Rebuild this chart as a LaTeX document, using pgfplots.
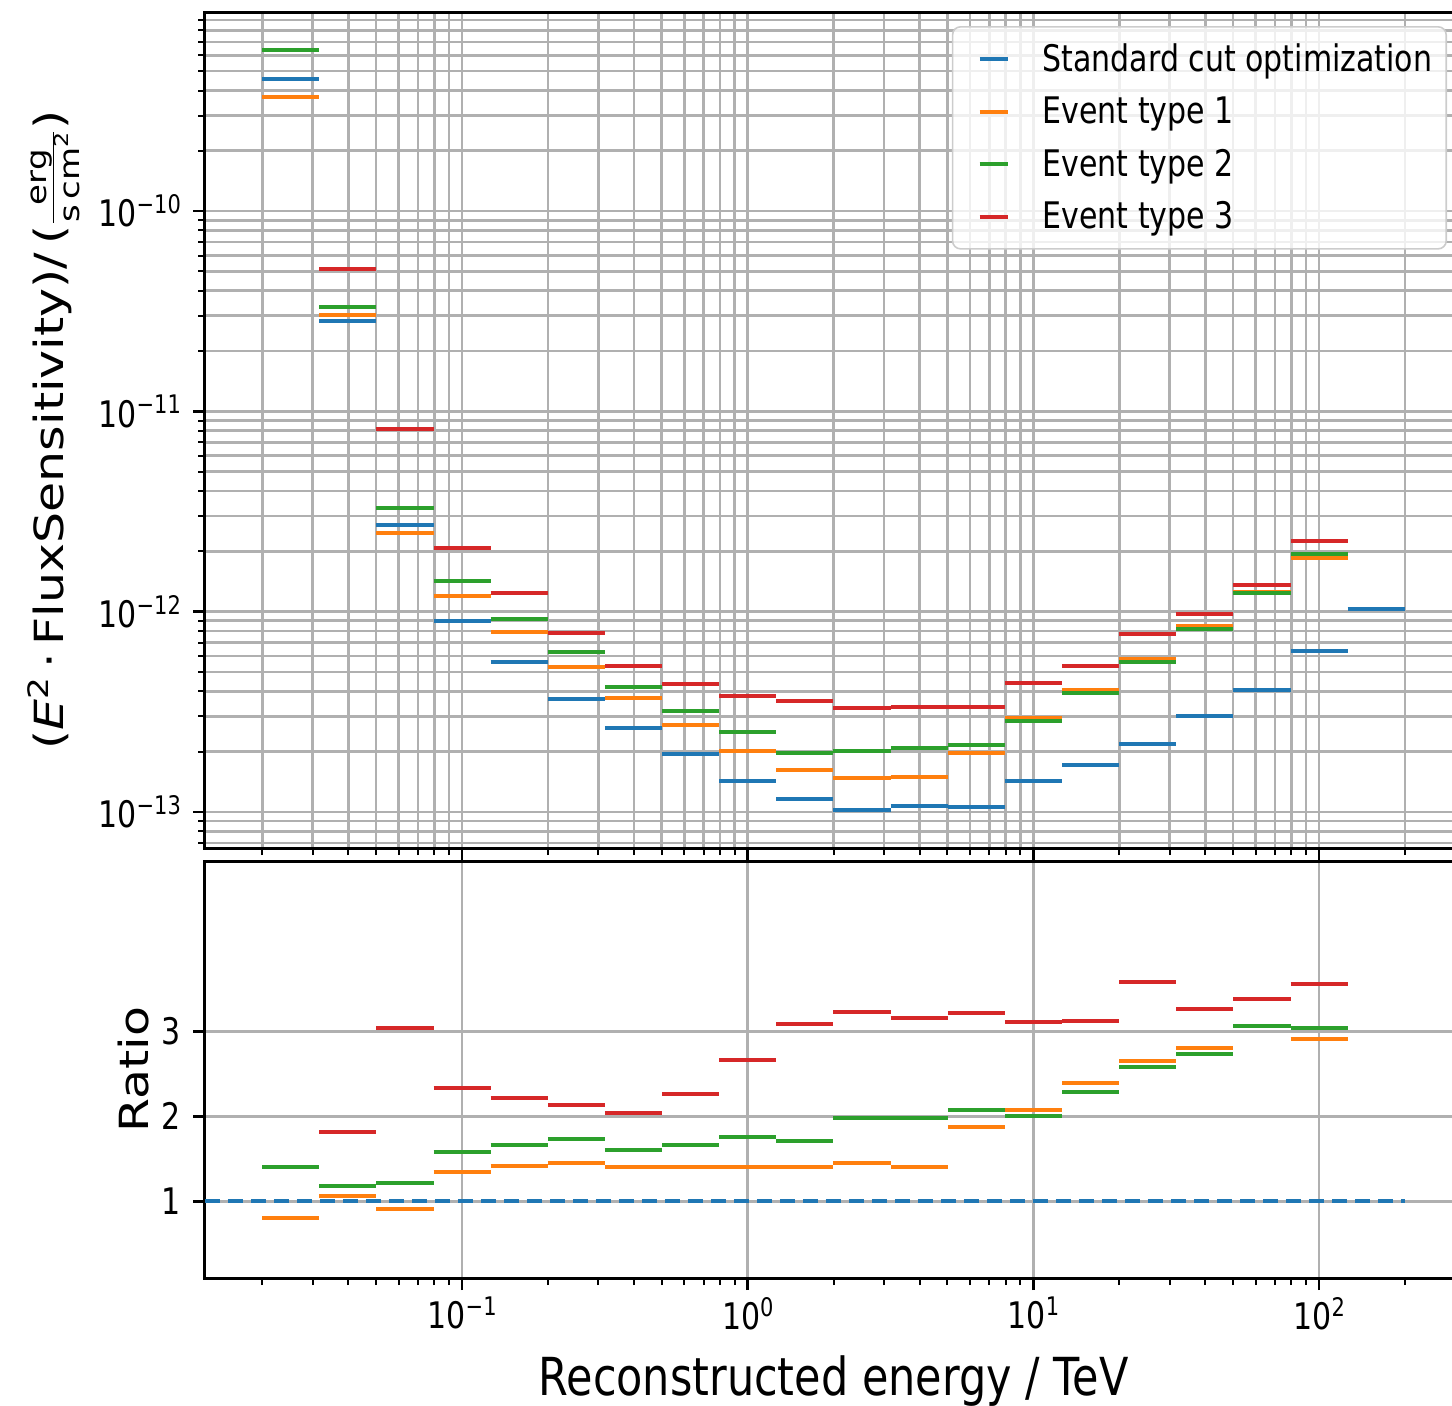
\documentclass[border=0pt]{standalone}
\usepackage{fontspec}
\setmainfont{DejaVu Sans}[FakeStretch=0.82]
\newfontfamily\rotfont{DejaVu Sans}
\usepackage{graphicx}
\usepackage{pgfplots}
\pgfplotsset{compat=1.18}
\usepackage{pgfplotstable}

\definecolor{c1}{HTML}{1F77B4}
\definecolor{c2}{HTML}{FF7F0E}
\definecolor{c3}{HTML}{2CA02C}
\definecolor{c4}{HTML}{D62728}
\definecolor{gridgray}{HTML}{B0B0B0}

\newcommand{\tk}{\fontsize{18.3pt}{22pt}\selectfont}
\newcommand{\pw}[1]{10\raisebox{6.6pt}{\fontsize{12.8pt}{14pt}\selectfont #1}}
\newcommand{\rotlab}[1]{\scalebox{1}[0.82]{\rotfont\fontsize{24.5pt}{29pt}\selectfont #1}}
\newcommand{\fracfont}{\rotfont\fontsize{17pt}{19pt}\selectfont}

% sensitivity: x = lower bin edge, last row = upper edge of last bin
\pgfplotstableread{
x y
0.019953 4.56e-10
0.031623 2.82e-11
0.050119 2.70e-12
0.079433 8.97e-13
0.125893 5.60e-13
0.199526 3.66e-13
0.316228 2.62e-13
0.501187 1.95e-13
0.794328 1.43e-13
1.258925 1.16e-13
1.995262 1.02e-13
3.162278 1.07e-13
5.011872 1.06e-13
7.943282 1.43e-13
12.58925 1.71e-13
19.95262 2.18e-13
31.62278 3.01e-13
50.11872 4.06e-13
79.43282 6.35e-13
125.8925 1.03e-12
199.5262 1.03e-12
}\sstd
\pgfplotstableread{
x y
0.019953 3.71e-10
0.031623 3.03e-11
0.050119 2.47e-12
0.079433 1.20e-12
0.125893 7.91e-13
0.199526 5.29e-13
0.316228 3.70e-13
0.501187 2.72e-13
0.794328 2.01e-13
1.258925 1.62e-13
1.995262 1.48e-13
3.162278 1.49e-13
5.011872 1.97e-13
7.943282 2.94e-13
12.58925 4.06e-13
19.95262 5.80e-13
31.62278 8.47e-13
50.11872 1.25e-12
79.43282 1.85e-12
125.8925 1.85e-12
}\sone
\pgfplotstableread{
x y
0.019953 6.36e-10
0.031623 3.32e-11
0.050119 3.29e-12
0.079433 1.42e-12
0.125893 9.18e-13
0.199526 6.28e-13
0.316228 4.21e-13
0.501187 3.19e-13
0.794328 2.51e-13
1.258925 1.97e-13
1.995262 2.01e-13
3.162278 2.09e-13
5.011872 2.16e-13
7.943282 2.84e-13
12.58925 3.93e-13
19.95262 5.60e-13
31.62278 8.18e-13
50.11872 1.24e-12
79.43282 1.94e-12
125.8925 1.94e-12
}\stwo
\pgfplotstableread{
x y
0.031623 5.13e-11
0.050119 8.17e-12
0.079433 2.08e-12
0.125893 1.24e-12
0.199526 7.82e-13
0.316228 5.35e-13
0.501187 4.35e-13
0.794328 3.79e-13
1.258925 3.58e-13
1.995262 3.30e-13
3.162278 3.34e-13
5.011872 3.34e-13
7.943282 4.40e-13
12.58925 5.35e-13
19.95262 7.73e-13
31.62278 9.73e-13
50.11872 1.36e-12
79.43282 2.25e-12
125.8925 2.25e-12
}\sthree
% ratios to standard cut optimization
\pgfplotstableread{
x y
0.019953 0.81
0.031623 1.06
0.050119 0.91
0.079433 1.34
0.125893 1.42
0.199526 1.45
0.316228 1.41
0.501187 1.40
0.794328 1.40
1.258925 1.40
1.995262 1.45
3.162278 1.40
5.011872 1.87
7.943282 2.08
12.58925 2.39
19.95262 2.65
31.62278 2.80
50.11872 3.06
79.43282 2.91
125.8925 2.91
}\rone
\pgfplotstableread{
x y
0.019953 1.40
0.031623 1.18
0.050119 1.22
0.079433 1.58
0.125893 1.66
0.199526 1.73
0.316228 1.61
0.501187 1.66
0.794328 1.76
1.258925 1.71
1.995262 1.98
3.162278 1.98
5.011872 2.07
7.943282 2.00
12.58925 2.28
19.95262 2.58
31.62278 2.73
50.11872 3.06
79.43282 3.04
125.8925 3.04
}\rtwo
\pgfplotstableread{
x y
0.031623 1.81
0.050119 3.04
0.079433 2.33
0.125893 2.21
0.199526 2.13
0.316228 2.04
0.501187 2.26
0.794328 2.66
1.258925 3.09
1.995262 3.22
3.162278 3.15
5.011872 3.21
7.943282 3.11
12.58925 3.12
19.95262 3.58
31.62278 3.26
50.11872 3.38
79.43282 3.55
125.8925 3.55
}\rthree

\begin{document}
\begin{tikzpicture}
\begin{axis}[name=top,
  scale only axis, width=628.5pt, height=418pt,
  xmode=log, ymode=log,
  xmin=0.0125893, xmax=316.228, ymin=6.6e-14, ymax=9.86e-10,
  axis line style={line width=1.5pt, black},
  tick style={line width=1.3pt, black},
  minor tick style={line width=1pt, black},
  major tick length=6pt, minor tick length=3.5pt,
  tick align=outside, tick pos=left,
  grid=both,
  grid style={line width=1.3pt, gridgray},
  minor grid style={line width=1.3pt, gridgray},
  xtick={0.1,1,10,100},
  minor xtick={0.02,0.03,0.04,0.05,0.06,0.07,0.08,0.09,0.2,0.3,0.4,0.5,0.6,0.7,0.8,0.9,2,3,4,5,6,7,8,9,20,30,40,50,60,70,80,90,200,300},
  xticklabels={},
  ytick={1e-13,1e-12,1e-11,1e-10},
  yticklabels={\pw{−13},\pw{−12},\pw{−11},\pw{−10}},
  minor ytick={7e-14,8e-14,9e-14,2e-13,3e-13,4e-13,5e-13,6e-13,7e-13,8e-13,9e-13,2e-12,3e-12,4e-12,5e-12,6e-12,7e-12,8e-12,9e-12,2e-11,3e-11,4e-11,5e-11,6e-11,7e-11,8e-11,9e-11,2e-10,3e-10,4e-10,5e-10,6e-10,7e-10,8e-10,9e-10},
  tick label style={font=\tk},
  yticklabel style={anchor=east, xshift=-2.5pt},
  ylabel={\rotlab{(\textit{E}\textsuperscript{2}\,·\,FluxSensitivity)/\,(\ensuremath{\frac{\mbox{\fracfont erg}}{\mbox{\fracfont s\,cm\textsuperscript{2}}}})}},
  ylabel style={at={(axis description cs:-0.1125,0.5)}, rotate=0, anchor=base, inner sep=0pt},
  legend image code/.code={\path (0pt,0pt); \draw[line width=2pt, #1] (7.5pt,0pt) -- (21.5pt,0pt);},
  legend style={at={(1,1)}, anchor=north east, xshift=-7.5pt, yshift=-7pt,
    draw=black!20, line width=0.8pt, rounded corners=4pt,
    fill=white, fill opacity=0.8, text opacity=1,
    font=\tk, inner xsep=5pt, inner ysep=6.5pt, row sep=7.2pt, column sep=14.5pt},
  legend cell align=left,
]
\addplot[c1, line width=2pt, jump mark left] table {\sstd};
\addlegendentry{Standard cut optimization}
\addplot[c2, line width=2pt, jump mark left] table {\sone};
\addlegendentry{Event type 1}
\addplot[c3, line width=2pt, jump mark left] table {\stwo};
\addlegendentry{Event type 2}
\addplot[c4, line width=2pt, jump mark left] table {\sthree};
\addlegendentry{Event type 3}
\end{axis}

\begin{axis}[at={(top.south west)}, anchor=north west, yshift=-6.5pt,
  scale only axis, width=628.5pt, height=208.5pt,
  xmode=log,
  xmin=0.0125893, xmax=316.228, ymin=0.1, ymax=5,
  axis line style={line width=1.5pt, black},
  tick style={line width=1.3pt, black},
  minor tick style={line width=1pt, black},
  major tick length=6pt, minor tick length=3.5pt,
  tick align=outside, tick pos=left,
  grid=major,
  grid style={line width=1.3pt, gridgray},
  xtick={0.1,1,10,100},
  minor xtick={0.02,0.03,0.04,0.05,0.06,0.07,0.08,0.09,0.2,0.3,0.4,0.5,0.6,0.7,0.8,0.9,2,3,4,5,6,7,8,9,20,30,40,50,60,70,80,90,200,300},
  xticklabels={\pw{−1},\pw{0},\pw{1},\pw{2}},
  ytick={1,2,3}, yticklabels={1,2,3},
  tick label style={font=\tk},
  yticklabel style={anchor=east, xshift=-2.5pt},
  xlabel={\fontsize{26.2pt}{31pt}\selectfont Reconstructed energy / TeV},
  xlabel style={at={(axis description cs:0.5,0)}, anchor=base, yshift=-58.5pt},
  ylabel={\rotlab{Ratio}},
  ylabel style={at={(axis description cs:-0.0446,0.5)}, rotate=0, anchor=base, inner sep=0pt},
]
\addplot[c1, line width=2pt, dash pattern=on 7.5pt off 4pt] coordinates {(0.0125893,1) (199.5262,1)};
\addplot[c2, line width=2pt, jump mark left] table {\rone};
\addplot[c3, line width=2pt, jump mark left] table {\rtwo};
\addplot[c4, line width=2pt, jump mark left] table {\rthree};
\end{axis}
\pgfresetboundingbox
\path[use as bounding box] (top.north west) ++(-102.5pt,6pt) rectangle ++(726pt,-702.5pt);
\end{tikzpicture}
\end{document}
